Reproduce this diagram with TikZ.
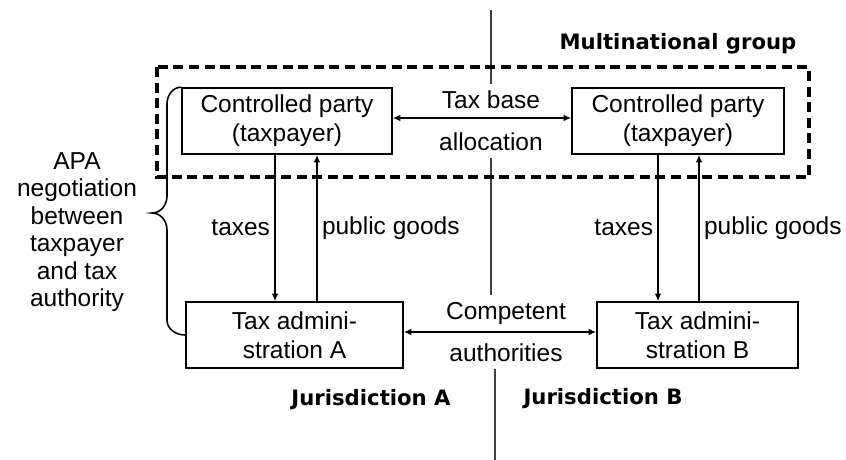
\documentclass[tikz,border=0pt]{standalone}
\usepackage{fontspec}
\setmainfont{Liberation Sans}
\newfontfamily\headfont{DejaVu Sans}
\usetikzlibrary{arrows.meta}
\tikzset{
	office/.style={draw,line width=0.8pt,align=center,inner sep=0pt,minimum height=33pt,font=\fontsize{12.25}{14.5}\selectfont},
	plain/.style={font=\fontsize{12.25}{14.5}\selectfont},
	heading/.style={font=\headfont\bfseries\fontsize{10.6}{13}\selectfont},
	flow/.style={line width=1pt,-{Latex[length=3.8pt,width=3.4pt]}},
	twoway/.style={line width=1.1pt,{Latex[length=3.8pt,width=3.4pt]}-{Latex[length=3.8pt,width=3.4pt]}},
	divider/.style={line width=0.8pt,black!75},
	groupbox/.style={line width=1.8pt,dash pattern=on 5pt off 2.8pt}
}

\begin{document}
\begin{tikzpicture}[x=0.5pt,y=-0.5pt]
\useasboundingbox (0,0) rectangle (846,460);
%taxpayers and administrations
\node[office,minimum width=105pt] (partyA) at (287,121) {Controlled party\\(taxpayer)};
\node[office,minimum width=106pt] (partyB) at (678,121) {Controlled party\\(taxpayer)};
\node[office,minimum width=108.5pt] (adminA) at (294.5,335) {Tax admini-\\stration A};
\node[office,minimum width=100.5pt] (adminB) at (697.5,335) {Tax admini-\\stration B};

%headings
\node[heading] (group) at (678,44) {Multinational group};
\node[heading] (jurA) at (371,400) {Jurisdiction A};
\node[heading] (jurB) at (603,399) {Jurisdiction B};

%middle labels
\node[plain] (taxbase) at (491,100) {Tax base};
\node[plain] (alloc) at (491,142) {allocation};
\node[plain] (competent) at (506,313) {Competent};
\node[plain] (authority) at (506,353) {authorities};
\node[plain,align=center,font=\fontsize{12.25}{13.75}\selectfont] (apa) at (77,232) {APA\\negotiation\\between\\taxpayer\\and tax\\authority};

%border between jurisdictions
\coordinate (top) at (491,10);
\coordinate (bottom) at (495,460);
\draw[divider] (top) -- (taxbase);
\draw[divider] (alloc.south) -- (alloc.south |- competent.north);
\draw[divider] (bottom |- authority.south) -- (bottom);

\draw[groupbox] (157,67) rectangle (809,177);

%flows
\draw[twoway] ([yshift=1.5pt]partyA.east) -- ([yshift=1.5pt]partyB.west);
\draw[twoway] ([yshift=1.5pt]adminA.east) -- ([yshift=1.5pt]adminB.west);
\draw[flow] (275,0 |- partyA.south) -- (275,0 |- adminA.north) node[plain,midway,left,inner sep=2pt] {taxes};
\draw[flow] (317,0 |- adminA.north) -- (317,0 |- partyA.south) node[plain,midway,right,inner sep=2pt] {public goods};
\draw[flow] (658,0 |- partyB.south) -- (658,0 |- adminB.north) node[plain,midway,left,inner sep=2pt] {taxes};
\draw[flow] (699,0 |- adminB.north) -- (699,0 |- partyB.south) node[plain,midway,right,inner sep=2pt] {public goods};

%brace
\draw[line width=0.8pt] (partyA.north west) to[out=180,in=90] (167,104) -- (167,196) to[out=-90,in=0] (152,213)
	to[out=0,in=90] (167,230) -- (167,320) to[out=-90,in=180] (adminA.west);
\end{tikzpicture}
\end{document}
